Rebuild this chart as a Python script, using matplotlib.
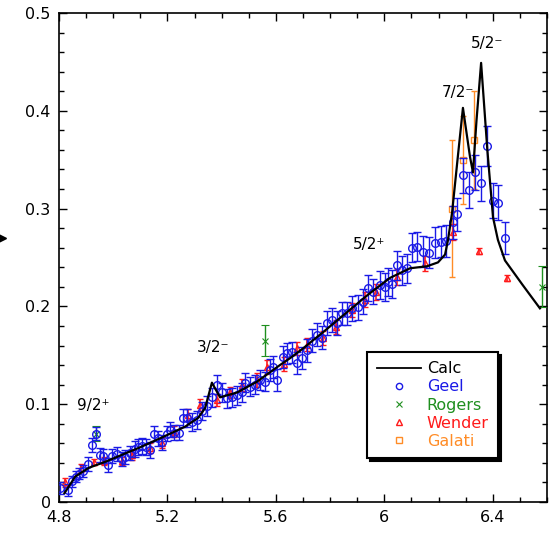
import matplotlib
matplotlib.use("Agg")
import matplotlib.pyplot as plt
from matplotlib.lines import Line2D
from matplotlib.ticker import MultipleLocator

# calculated cross section curve
calc_e = [4.82, 4.86, 4.91, 4.97, 5.03, 5.10, 5.18, 5.265, 5.313, 5.339, 5.364, 5.394,
          5.457, 5.53, 5.615, 5.652, 5.70, 5.78, 5.862, 5.94, 6.02, 6.095, 6.157, 6.198,
          6.224, 6.235, 6.25, 6.27, 6.29, 6.316, 6.327, 6.34, 6.357, 6.38, 6.401, 6.419,
          6.445, 6.51, 6.574]
calc_v = [0.009, 0.026, 0.035, 0.041, 0.048, 0.056, 0.066, 0.077, 0.086, 0.096, 0.122, 0.107,
          0.112, 0.123, 0.140, 0.147, 0.157, 0.175, 0.194, 0.212, 0.229, 0.239, 0.241, 0.245,
          0.253, 0.268, 0.296, 0.35, 0.403, 0.353, 0.337, 0.39, 0.449, 0.36, 0.291, 0.268,
          0.247, 0.222, 0.198]

# Geel data
geel_e = [4.804, 4.833, 4.848, 4.863, 4.874, 4.889, 4.907, 4.922, 4.936, 4.951, 4.962, 4.981,
          4.996, 5.014, 5.032, 5.043, 5.062, 5.080, 5.091, 5.106, 5.121, 5.136, 5.150, 5.165,
          5.180, 5.198, 5.209, 5.224, 5.243, 5.257, 5.272, 5.290, 5.310, 5.328, 5.346, 5.364,
          5.383, 5.401, 5.420, 5.438, 5.457, 5.475, 5.486, 5.505, 5.523, 5.541, 5.560, 5.578,
          5.589, 5.604, 5.626, 5.641, 5.659, 5.678, 5.696, 5.715, 5.733, 5.752, 5.770, 5.789,
          5.807, 5.826, 5.844, 5.862, 5.881, 5.903, 5.922, 5.940, 5.958, 5.984, 6.003, 6.014,
          6.030, 6.047, 6.065, 6.084, 6.102, 6.120, 6.143, 6.165, 6.187, 6.209, 6.228, 6.253,
          6.268, 6.290, 6.312, 6.334, 6.357, 6.379, 6.401, 6.419, 6.445]
geel_v = [0.014, 0.012, 0.021, 0.026, 0.029, 0.032, 0.039, 0.058, 0.070, 0.048, 0.047, 0.038,
          0.047, 0.049, 0.044, 0.046, 0.050, 0.054, 0.056, 0.057, 0.056, 0.053, 0.070, 0.065,
          0.061, 0.070, 0.074, 0.071, 0.071, 0.086, 0.086, 0.082, 0.084, 0.093, 0.098, 0.107,
          0.120, 0.112, 0.106, 0.107, 0.109, 0.112, 0.122, 0.118, 0.120, 0.125, 0.123, 0.135,
          0.138, 0.125, 0.148, 0.152, 0.153, 0.142, 0.147, 0.155, 0.165, 0.171, 0.168, 0.183,
          0.186, 0.183, 0.193, 0.193, 0.198, 0.199, 0.205, 0.219, 0.215, 0.222, 0.220, 0.225,
          0.223, 0.242, 0.237, 0.239, 0.260, 0.261, 0.256, 0.255, 0.265, 0.266, 0.267, 0.286,
          0.294, 0.334, 0.319, 0.337, 0.326, 0.364, 0.308, 0.306, 0.270]
geel_err = [0.006, 0.006, 0.006, 0.006, 0.006, 0.006, 0.007, 0.007, 0.007, 0.007, 0.007, 0.007,
            0.007, 0.007, 0.007, 0.007, 0.007, 0.008, 0.008, 0.008, 0.008, 0.008, 0.008, 0.008,
            0.008, 0.008, 0.008, 0.008, 0.008, 0.009, 0.009, 0.009, 0.009, 0.009, 0.010, 0.010,
            0.010, 0.010, 0.010, 0.010, 0.010, 0.010, 0.010, 0.010, 0.010, 0.010, 0.010, 0.011,
            0.011, 0.011, 0.011, 0.011, 0.011, 0.011, 0.011, 0.012, 0.012, 0.012, 0.012, 0.012,
            0.012, 0.012, 0.012, 0.012, 0.013, 0.013, 0.013, 0.013, 0.013, 0.014, 0.014, 0.014,
            0.014, 0.015, 0.015, 0.015, 0.015, 0.015, 0.016, 0.016, 0.016, 0.016, 0.016, 0.017,
            0.017, 0.018, 0.018, 0.018, 0.018, 0.020, 0.018, 0.018, 0.016]

# Rogers data
rogers_e = [4.936, 5.560, 6.580]
rogers_v = [0.070, 0.165, 0.220]
rogers_err = [0.008, 0.016, 0.021]

# Wender data
wender_e = [4.822, 4.881, 4.929, 4.966, 5.032, 5.069, 5.136, 5.180, 5.224, 5.276, 5.320,
            5.383, 5.431, 5.475, 5.530, 5.567, 5.630, 5.678, 5.715, 5.774, 5.822, 5.881,
            5.929, 5.969, 6.047, 6.150, 6.253, 6.349, 6.452]
wender_v = [0.020, 0.035, 0.041, 0.042, 0.042, 0.048, 0.055, 0.060, 0.072, 0.089, 0.099,
            0.104, 0.112, 0.120, 0.125, 0.138, 0.141, 0.157, 0.161, 0.168, 0.179, 0.196,
            0.207, 0.215, 0.230, 0.244, 0.276, 0.257, 0.229]
wender_err = [0.005, 0.004, 0.003, 0.004, 0.004, 0.005, 0.005, 0.005, 0.006, 0.006, 0.006,
              0.006, 0.006, 0.006, 0.007, 0.007, 0.007, 0.007, 0.007, 0.007, 0.007, 0.007,
              0.008, 0.008, 0.008, 0.008, 0.008, 0.003, 0.003]

# Galati data
galati_e = [6.250, 6.290, 6.331]
galati_v = [0.300, 0.350, 0.370]
galati_err = [0.070, 0.045, 0.050]

# resonance labels
res_labels = ["9/2⁺", "3/2⁻", "5/2⁺", "7/2⁻", "5/2⁻"]
res_e = [4.866, 5.309, 5.885, 6.213, 6.320]
res_v = [0.099, 0.158, 0.263, 0.419, 0.469]

blue = "#1a1ae6"
green = "#1f8f1f"
red = "#ff1a1a"
orange = "#ff8c26"

plt.rcParams["font.family"] = ["DejaVu Sans"]

fig = plt.figure(figsize=(5.51, 5.35), dpi=100)
ax = fig.add_axes([0.1071, 0.0617, 0.8856, 0.914])

ax.errorbar(galati_e, galati_v, yerr=galati_err, fmt="s", ms=5, mfc="none", mec=orange,
            ecolor=orange, mew=1, elinewidth=1, capsize=2.5, zorder=2)
ax.errorbar(wender_e, wender_v, yerr=wender_err, fmt="^", ms=4, mfc="none", mec=red,
            ecolor=red, mew=1, elinewidth=1.2, capsize=2.5, zorder=3)
ax.errorbar(geel_e, geel_v, yerr=geel_err, fmt="o", ms=5.5, mfc="none", mec=blue,
            ecolor=blue, mew=1, elinewidth=1, capsize=3, zorder=4)
ax.errorbar(rogers_e, rogers_v, yerr=rogers_err, fmt="x", ms=4, mec=green,
            ecolor=green, mew=0.8, elinewidth=1, capsize=3, zorder=3)
ax.plot(calc_e, calc_v, color="black", lw=1.6, zorder=5)

for lab, e, v in zip(res_labels, res_e, res_v):
    ax.text(e, v, lab, fontsize=11, ha="left", va="center")

ax.set_xlim(4.8, 6.6)
ax.set_ylim(0, 0.5)
ax.xaxis.set_major_locator(MultipleLocator(0.4))
ax.xaxis.set_minor_locator(MultipleLocator(0.1))
ax.yaxis.set_major_locator(MultipleLocator(0.1))
ax.yaxis.set_minor_locator(MultipleLocator(0.02))
ax.set_xticks([4.8, 5.2, 5.6, 6.0, 6.4])
ax.set_xticklabels(["4.8", "5.2", "5.6", "6", "6.4"])
ax.set_yticks([0, 0.1, 0.2, 0.3, 0.4, 0.5])
ax.set_yticklabels(["0", "0.1", "0.2", "0.3", "0.4", "0.5"])
ax.tick_params(which="both", direction="in", top=True, right=True, labelsize=11.5, width=1)
ax.tick_params(which="major", length=6, pad=6)
ax.tick_params(which="minor", length=3.5)
for sp in ax.spines.values():
    sp.set_linewidth(1.2)

handles = [
    Line2D([], [], color="black", lw=1.3),
    Line2D([], [], ls="none", marker="o", ms=4.5, mfc="none", mec=blue, mew=1),
    Line2D([], [], ls="none", marker="x", ms=4, mec=green, mew=0.8),
    Line2D([], [], ls="none", marker="^", ms=4, mfc="none", mec=red, mew=1),
    Line2D([], [], ls="none", marker="s", ms=4, mfc="none", mec=orange, mew=1),
]
leg = ax.legend(handles, ["Calc", "Geel", "Rogers", "Wender", "Galati"],
                loc="upper left", bbox_to_anchor=(0.631, 0.307), borderaxespad=0,
                fontsize=11.5, labelcolor=["black", blue, green, red, orange],
                handlelength=2.8, handletextpad=0.35, labelspacing=0.19, borderpad=0.6,
                fancybox=False, framealpha=1, edgecolor="black",
                shadow={"color": "black", "alpha": 1})
leg.get_frame().set_linewidth(1.5)
leg.set_zorder(10)

# arrow tip of the y label sticking in from the left edge
fig.add_artist(Line2D([0.002], [0.555], marker=">", ms=7, color="black",
                      transform=fig.transFigure))

fig.savefig("out.png", dpi=100)
